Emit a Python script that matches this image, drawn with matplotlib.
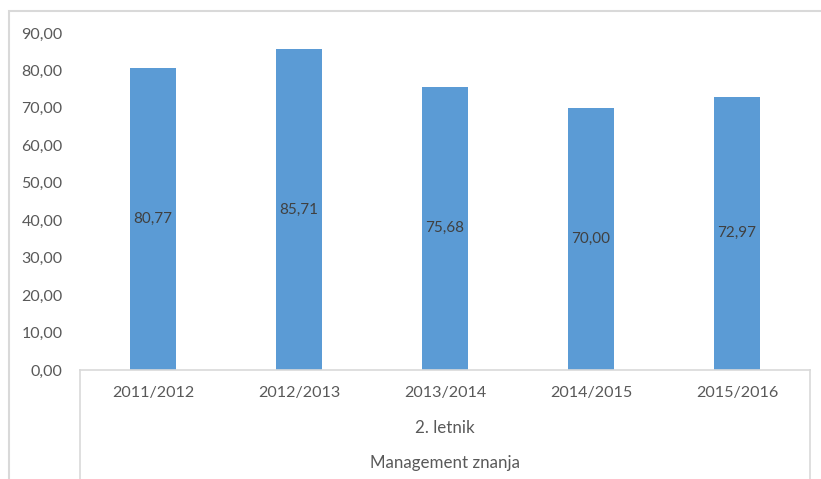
import matplotlib.pyplot as plt
from matplotlib.lines import Line2D
from matplotlib.patches import Rectangle

years = ['2011/2012', '2012/2013', '2013/2014', '2014/2015', '2015/2016']
values = [80.77, 85.71, 75.68, 70.00, 72.97]
group_label = '2. letnik'
outer_label = 'Management znanja'
yticks = [0, 10, 20, 30, 40, 50, 60, 70, 80, 90]

plt.rcParams['font.family'] = ['Lato', 'DejaVu Sans']

W, H = 821, 479
fig = plt.figure(figsize=(W / 100, H / 100), dpi=100)

# plot area in pixel terms
x0, x1 = 80, 810
ytop, ybot = 33, 370
ax = fig.add_axes([x0 / W, 1 - ybot / H, (x1 - x0) / W, (ybot - ytop) / H])

grid_col = '#d9d9d9'
text_col = '#595959'

xs = range(len(years))
ax.bar(xs, values, width=0.31, color='#5b9bd5')
for x, v in zip(xs, values):
    ax.text(x, v / 2, f'{v:.2f}'.replace('.', ','), ha='center', va='center',
            fontsize=11, color='#404040')

ax.set_xlim(-0.5, len(years) - 0.5)
ax.set_ylim(0, 90)
ax.set_yticks(yticks)
ax.set_yticklabels([f'{t:.2f}'.replace('.', ',') for t in yticks])
ax.tick_params(axis='y', length=0, labelsize=11.5, labelcolor=text_col, pad=12.5)
ax.set_xticks([])
for side in ['top', 'right', 'left']:
    ax.spines[side].set_visible(False)
ax.spines['bottom'].set_color(grid_col)
ax.spines['bottom'].set_linewidth(1.2)

# multi-level category axis below the plot
def fy(py):
    return 1 - py / H

def fx(px):
    return px / W

for px in [x0, x1]:
    fig.add_artist(Line2D([fx(px), fx(px)], [fy(ybot), fy(H + 5)],
                          color=grid_col, lw=1.2))

for x, lab in zip(xs, years):
    px = x0 + (x + 0.5) * (x1 - x0) / len(years)
    fig.text(fx(px), fy(393), lab, ha='center', va='center', fontsize=11.6, color=text_col)
fig.text(fx((x0 + x1) / 2), fy(428), group_label, ha='center', va='center',
         fontsize=12.2, color=text_col)
fig.text(fx((x0 + x1) / 2), fy(463), outer_label, ha='center', va='center',
         fontsize=12.2, color=text_col)

# chart frame
fig.add_artist(Rectangle((fx(9), fy(H + 20)), fx(W + 20), fy(11) - fy(H + 20),
                         fill=False, edgecolor=grid_col, lw=1.5,
                         transform=fig.transFigure))

fig.savefig('out.png', dpi=100)
